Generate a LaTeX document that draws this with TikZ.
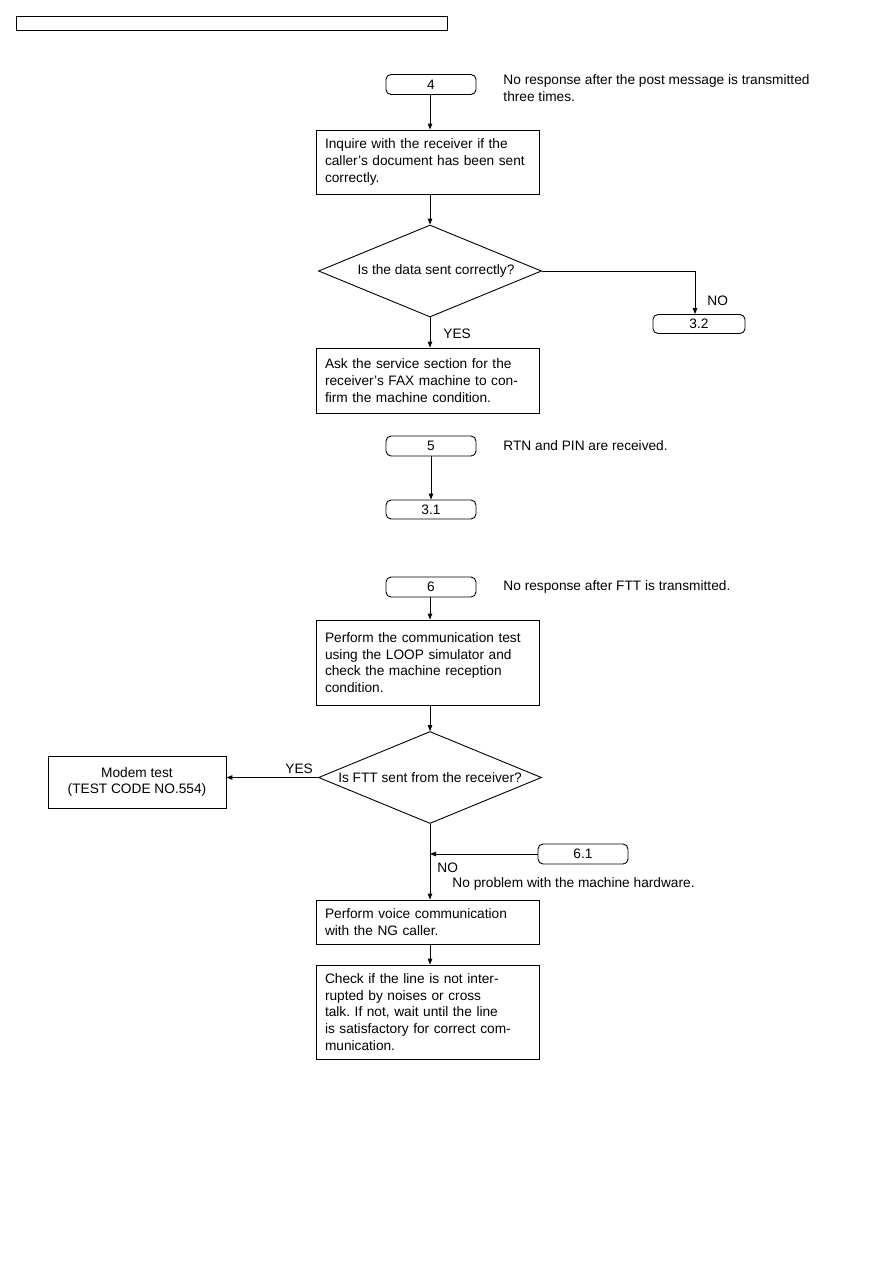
\documentclass[tikz,border=0pt]{standalone}
\usepackage{fontspec}
\setmainfont{Liberation Sans}
\usetikzlibrary{arrows.meta,positioning,shapes.geometric}
\frenchspacing

\begin{document}
\begin{tikzpicture}[x=1pt, y=-1pt, line width=0.9pt,
  font=\fontsize{13.7}{16.8}\selectfont,
  term/.style={draw, rounded corners=5pt, minimum width=90pt, minimum height=20pt, inner sep=0pt},
  proc/.style={draw, align=left, text width=205pt, inner xsep=9pt, inner ysep=0pt},
  dec/.style={draw, diamond, minimum width=223pt, minimum height=92pt, inner sep=0pt},
  note/.style={anchor=west, align=left, inner sep=0pt},
  arr/.style={-{Triangle[length=6pt,width=4.5pt]}}
]
\useasboundingbox (0,0) rectangle (893,1263);
\node[draw, minimum width=431pt, minimum height=14pt, inner sep=0pt] (hdr) at (231.5,23) {};

% branch 4
\node[term] (t4) at (431,84.5) {4};
\node[note] (n4) at (503,88.5) {No response after the post message is transmitted\\three times.};
\node[proc, minimum height=64pt] (p1) at (427.5,162) {Inquire with the receiver if the\\caller's document has been sent\\correctly.};
\node[dec] (q1) at (430,271) {\makebox[0pt]{\hspace{12pt}Is the data sent correctly?}};
\node[term, minimum width=92pt, minimum height=19pt] (t32) at (699,324) {3.2};
\node[note] (no1) at (707,301) {NO};
\node[note] (yes1) at (443,334) {YES};
\node[proc, minimum height=65pt] (p2) at (427.5,380.5) {Ask the service section for the\\receiver's FAX machine to con-\\firm the machine condition.};
\draw[arr] ([xshift=-1pt]t4.south) -- ([xshift=-1pt]t4.south |- p1.north);
\draw[arr] (p1.south -| q1.north) -- (q1.north);
\draw[arr] (q1.east) -| ([xshift=-4pt]t32.north);
\draw[arr] (q1.south) -- (q1.south |- p2.north);

% branch 5
\node[term] (t5) at (431,446) {5};
\node[note] (n5) at (503,446) {RTN and PIN are received.};
\node[term, minimum height=19pt] (t31) at (431,509.5) {3.1};
\draw[arr] (t5) -- (t31);

% branch 6
\node[term] (t6) at (431,587) {6};
\node[note] (n6) at (503,587) {No response after FTT is transmitted.};
\node[proc, minimum height=85pt] (p3) at (427.5,662.5) {Perform the communication test\\using the LOOP simulator and\\check the machine reception\\condition.};
\node[dec] (q2) at (430,777.5) {\makebox[0pt]{Is FTT sent from the receiver?}};
\node[draw, align=center, minimum width=178pt, minimum height=52pt, inner sep=0pt] (m1) at (137,782) {Modem test\\(TEST CODE NO.554)};
\node[note] (yes2) at (285,769) {YES};
\node[term] (t61) at (583,854) {6.1};
\node[note] (no2) at (437,868) {NO};
\node[note] (n61) at (452,884) {No problem with the machine hardware.};
\node[proc, minimum height=44pt] (p4) at (427.5,922) {Perform voice communication\\with the NG caller.};
\node[proc, minimum height=94pt] (p5) at (427.5,1012) {Check if the line is not inter-\\rupted by noises or cross\\talk. If not, wait until the line\\is satisfactory for correct com-\\munication.};
\draw[arr] ([xshift=-1pt]t6.south) -- ([xshift=-1pt]t6.south |- p3.north);
\draw[arr] (p3.south -| q2.north) -- (q2.north);
\draw[arr] (q2.west) -- (q2.west -| m1.east);
\draw[arr] (q2.south) -- (q2.south |- p4.north);
\draw[arr] (t61.west) -- (t61.west -| q2.south);
\draw[arr] (p4.south -| q2.south) -- (p5.north -| q2.south);
\end{tikzpicture}
\end{document}
